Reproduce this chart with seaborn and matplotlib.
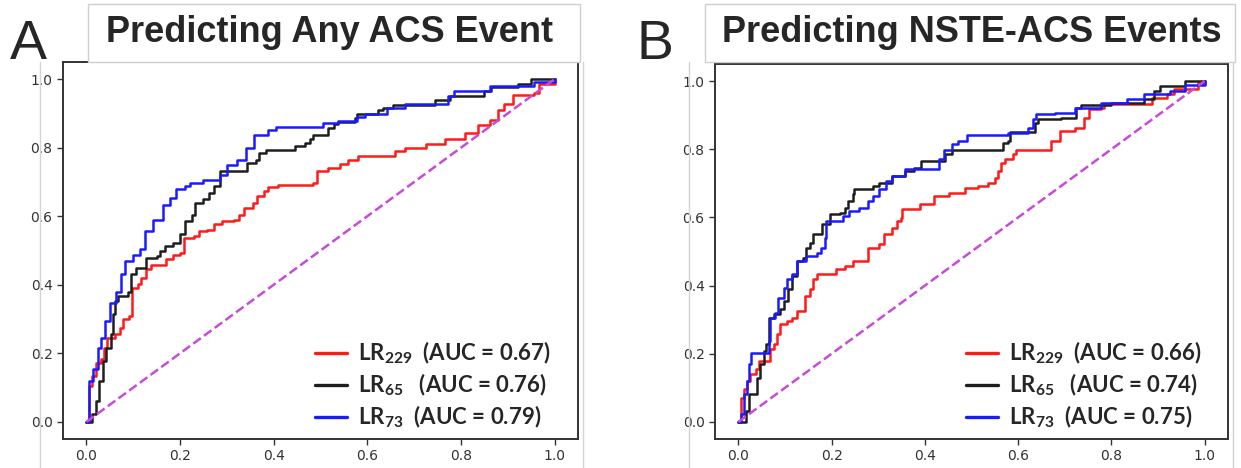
import seaborn as sns
import pandas as pd
from matplotlib import pyplot as plt
from matplotlib.lines import Line2D
from matplotlib.patches import Rectangle

# ROC points (fpr, tpr corners of the staircases)
a_red_fpr = [0, 0.006, 0.013, 0.02, 0.031, 0.038, 0.045, 0.06, 0.071, 0.078, 0.092, 0.098, 0.11, 0.117,
             0.128, 0.139, 0.164, 0.171, 0.186, 0.2, 0.209, 0.229, 0.24, 0.258, 0.272, 0.29, 0.315, 0.326,
             0.337, 0.355, 0.365, 0.38, 0.387, 0.41, 0.485, 0.492, 0.517, 0.542, 0.559, 0.581, 0.659, 0.68,
             0.726, 0.765, 0.808, 0.836, 0.861, 0.879, 0.893, 0.911, 0.957, 0.967, 1.0]
a_red_tpr = [0, 0.105, 0.134, 0.173, 0.183, 0.216, 0.245, 0.255, 0.275, 0.299, 0.309, 0.391, 0.401, 0.42,
             0.445, 0.459, 0.459, 0.474, 0.488, 0.493, 0.537, 0.542, 0.556, 0.561, 0.576, 0.585, 0.59, 0.605,
             0.624, 0.639, 0.658, 0.673, 0.684, 0.692, 0.697, 0.732, 0.74, 0.751, 0.763, 0.775, 0.79, 0.8,
             0.81, 0.824, 0.843, 0.867, 0.882, 0.911, 0.926, 0.955, 0.96, 0.985, 1.0]

a_black_fpr = [0, 0.013, 0.02, 0.027, 0.035, 0.042, 0.053, 0.056, 0.06, 0.067, 0.088, 0.096, 0.106, 0.128,
               0.15, 0.157, 0.168, 0.186, 0.2, 0.211, 0.225, 0.232, 0.25, 0.261, 0.272, 0.286, 0.344, 0.362,
               0.369, 0.383, 0.446, 0.467, 0.478, 0.485, 0.517, 0.528, 0.538, 0.574, 0.577, 0.623, 0.634,
               0.655, 0.744, 0.776, 0.85, 0.864, 0.921, 0.95, 1.0]
a_black_tpr = [0, 0.022, 0.061, 0.12, 0.178, 0.216, 0.255, 0.314, 0.352, 0.367, 0.38, 0.43, 0.45, 0.479,
               0.483, 0.498, 0.513, 0.522, 0.547, 0.585, 0.605, 0.639, 0.649, 0.668, 0.687, 0.731, 0.755, 0.765,
               0.784, 0.794, 0.805, 0.814, 0.824, 0.837, 0.858, 0.868, 0.876, 0.887, 0.897, 0.909, 0.916,
               0.924, 0.94, 0.95, 0.965, 0.977, 0.986, 1.0, 1.0]

a_blue_fpr = [0, 0.006, 0.015, 0.025, 0.031, 0.04, 0.051, 0.063, 0.074, 0.083, 0.099, 0.114, 0.126, 0.142,
              0.164, 0.178, 0.191, 0.211, 0.222, 0.25, 0.286, 0.301, 0.322, 0.34, 0.358, 0.387, 0.404, 0.506,
              0.538, 0.577, 0.595, 0.641, 0.68, 0.772, 0.786, 0.861, 0.957, 1.0]
a_blue_tpr = [0, 0.12, 0.153, 0.216, 0.245, 0.294, 0.348, 0.38, 0.43, 0.469, 0.488, 0.503, 0.556, 0.59,
              0.634, 0.653, 0.678, 0.687, 0.697, 0.707, 0.721, 0.75, 0.765, 0.799, 0.838, 0.852, 0.861, 0.871,
              0.878, 0.89, 0.897, 0.916, 0.928, 0.952, 0.965, 0.979, 0.992, 1.0]

b_red_fpr = [0, 0.005, 0.012, 0.019, 0.026, 0.037, 0.044, 0.069, 0.076, 0.083, 0.09, 0.104, 0.115, 0.125,
             0.143, 0.153, 0.16, 0.168, 0.21, 0.228, 0.245, 0.277, 0.302, 0.313, 0.33, 0.341, 0.348, 0.352,
             0.39, 0.419, 0.451, 0.487, 0.515, 0.536, 0.55, 0.557, 0.564, 0.572, 0.589, 0.596, 0.671, 0.689,
             0.721, 0.742, 0.753, 0.777, 0.785, 0.887, 0.919, 0.934, 0.986, 1.0]
b_red_tpr = [0, 0.071, 0.096, 0.12, 0.14, 0.154, 0.179, 0.213, 0.228, 0.257, 0.286, 0.296, 0.306, 0.326,
             0.37, 0.389, 0.418, 0.433, 0.448, 0.457, 0.472, 0.511, 0.521, 0.55, 0.57, 0.589, 0.599, 0.624,
             0.639, 0.663, 0.673, 0.687, 0.692, 0.702, 0.717, 0.736, 0.761, 0.77, 0.785, 0.799, 0.824, 0.853,
             0.863, 0.893, 0.917, 0.922, 0.932, 0.951, 0.961, 0.976, 0.995, 1.0]

b_black_fpr = [0, 0.016, 0.023, 0.04, 0.047, 0.054, 0.06, 0.065, 0.076, 0.09, 0.097, 0.107, 0.115, 0.125,
               0.139, 0.146, 0.153, 0.16, 0.18, 0.196, 0.217, 0.228, 0.235, 0.245, 0.249, 0.288, 0.302, 0.33,
               0.358, 0.377, 0.391, 0.444, 0.458, 0.568, 0.579, 0.583, 0.636, 0.643, 0.692, 0.724, 0.735,
               0.799, 0.87, 0.891, 0.905, 0.958, 1.0]
b_black_tpr = [0, 0.032, 0.081, 0.13, 0.169, 0.208, 0.228, 0.306, 0.316, 0.33, 0.355, 0.389, 0.428, 0.472,
               0.482, 0.511, 0.526, 0.55, 0.58, 0.609, 0.614, 0.629, 0.648, 0.668, 0.682, 0.692, 0.702, 0.721,
               0.736, 0.746, 0.765, 0.785, 0.799, 0.819, 0.824, 0.851, 0.878, 0.888, 0.893, 0.922, 0.931,
               0.936, 0.946, 0.971, 0.985, 1.0, 1.0]

b_blue_fpr = [0, 0.005, 0.012, 0.018, 0.023, 0.028, 0.065, 0.069, 0.079, 0.086, 0.097, 0.104, 0.115, 0.125,
              0.146, 0.168, 0.178, 0.185, 0.189, 0.224, 0.238, 0.259, 0.277, 0.288, 0.302, 0.316, 0.33, 0.358,
              0.43, 0.44, 0.458, 0.472, 0.49, 0.579, 0.621, 0.632, 0.639, 0.678, 0.721, 0.777, 0.834, 0.87,
              0.926, 0.958, 1.0]
b_blue_tpr = [0, 0.022, 0.081, 0.12, 0.169, 0.203, 0.238, 0.306, 0.321, 0.365, 0.394, 0.418, 0.433, 0.472,
              0.487, 0.497, 0.511, 0.541, 0.589, 0.604, 0.619, 0.629, 0.648, 0.663, 0.682, 0.707, 0.721, 0.741,
              0.77, 0.799, 0.814, 0.824, 0.841, 0.848, 0.863, 0.888, 0.902, 0.907, 0.922, 0.936, 0.946, 0.961,
              0.971, 0.988, 1.0]

diag = [0, 1]

a_labels = ["LR$_{229}$  (AUC = 0.67)", "LR$_{65}$   (AUC = 0.76)", "LR$_{73}$  (AUC = 0.79)"]
b_labels = ["LR$_{229}$  (AUC = 0.66)", "LR$_{65}$   (AUC = 0.74)", "LR$_{73}$  (AUC = 0.75)"]
colors = ["#ff1a1a", "#1e1e1e", "#1a1aff"]
titles = ["Predicting Any ACS Event", "Predicting NSTE-ACS Events"]
letters = ["A", "B"]

sns.set_theme(style="ticks")
plt.rcParams["font.family"] = ["DejaVu Sans"]
plt.rcParams["mathtext.fontset"] = "custom"
plt.rcParams["mathtext.rm"] = "Lato:bold"
plt.rcParams["mathtext.default"] = "rm"


def make_frame(curves, labels):
    parts = []
    for (fpr, tpr), label in zip(curves, labels):
        parts.append(pd.DataFrame({"fpr": fpr, "tpr": tpr, "model": label}))
    return pd.concat(parts, ignore_index=True)


W, H = 1241, 468
fig = plt.figure(figsize=(W / 100, H / 100), dpi=100)

panels = [
    (make_frame([(a_red_fpr, a_red_tpr), (a_black_fpr, a_black_tpr), (a_blue_fpr, a_blue_tpr)], a_labels),
     a_labels, [63, 29, 515, 377]),
    (make_frame([(b_red_fpr, b_red_tpr), (b_black_fpr, b_black_tpr), (b_blue_fpr, b_blue_tpr)], b_labels),
     b_labels, [715, 29, 513, 375]),
]

# faint borders of the two pasted plot images
for x0, x1 in [(40, 583), (689, 1233)]:
    fig.add_artist(Line2D([x0 / W, x0 / W], [0, 406 / H], color="#d4d4d4", lw=1))
    fig.add_artist(Line2D([x1 / W, x1 / W], [0, 406 / H], color="#d4d4d4", lw=1))

for i, (df, labels, box) in enumerate(panels):
    ax = fig.add_axes([box[0] / W, box[1] / H, box[2] / W, box[3] / H])
    sns.lineplot(data=df, x="fpr", y="tpr", hue="model", hue_order=labels,
                 palette=dict(zip(labels, colors)), estimator=None, sort=False,
                 drawstyle="steps-post", linewidth=1.8, ax=ax)
    sns.lineplot(x=diag, y=diag, color="#c84bd8", linestyle="--", linewidth=1.8, ax=ax)
    ax.set_xticks([0, 0.2, 0.4, 0.6, 0.8, 1.0])
    ax.set_yticks([0, 0.2, 0.4, 0.6, 0.8, 1.0])
    ax.set_xlabel("")
    ax.set_ylabel("")
    ax.tick_params(labelsize=10, colors="#333333", length=4, width=1)
    for sp in ax.spines.values():
        sp.set_color("#333333")
        sp.set_linewidth(1.4)
    sns.move_legend(ax, loc="lower left", bbox_to_anchor=(0.472, 0.0), frameon=False, title=None,
                    prop=dict(family="Lato", weight="bold", size=16), handlelength=1.45,
                    handletextpad=0.5, labelspacing=0.25, borderaxespad=0.0)
    for line in ax.get_legend().get_lines():
        line.set_linewidth(2.4)

# title boxes and panel letters
for (x0, x1, tx), title, letter, lx in zip([(88, 580, 330), (705, 1235, 972)], titles, letters, [28, 655]):
    fig.add_artist(Rectangle((x0 / W, 406 / H), (x1 - x0) / W, 58 / H, transform=fig.transFigure,
                             facecolor="white", edgecolor="#cfcfcf", lw=1))
    fig.text(tx / W, (H - 32) / H, title, ha="center", va="center", fontsize=26,
             fontweight="bold", family="Liberation Sans")
    fig.text(lx / W, (H - 45) / H, letter, ha="center", va="center", fontsize=40,
             family="Liberation Sans")

fig.savefig("out.png", dpi=100, facecolor="white")
